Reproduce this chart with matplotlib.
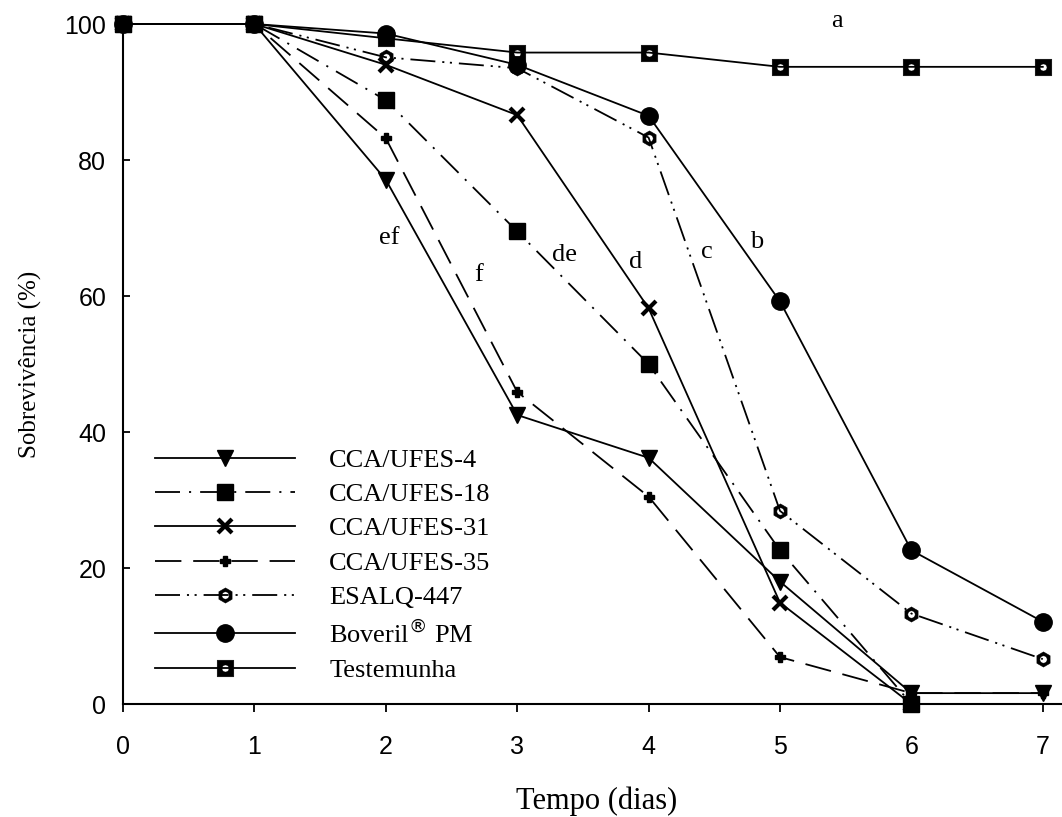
import numpy as np
import matplotlib
matplotlib.use("Agg")
import matplotlib.pyplot as plt
from matplotlib.path import Path

plt.rcParams["lines.scale_dashes"] = False

# data
days = [0, 1, 2, 3, 4, 5, 6, 7]
days_to6 = [0, 1, 2, 3, 4, 5, 6]
cca4 = [100, 100, 77.1, 42.5, 36.2, 18.0, 1.6, 1.6]
cca18 = [100, 100, 88.8, 69.5, 50.0, 22.6, 0]
cca31 = [100, 100, 94.0, 86.6, 58.2, 14.9, 0]
cca35 = [100, 100, 83.2, 45.9, 30.5, 6.9, 1.6, 1.6]
esalq = [100, 100, 95.1, 93.5, 83.3, 28.4, 13.3, 6.6]
boveril = [100, 100, 98.6, 94.0, 86.5, 59.2, 22.6, 12.1]
testemunha = [100, 100, 97.9, 95.8, 95.8, 93.7, 93.7, 93.7]

letters = ["a", "b", "c", "d", "de", "f", "ef"]
letter_x = [5.43, 4.82, 4.44, 3.90, 3.36, 2.71, 2.03]
letter_y = [100.5, 68.0, 66.5, 65.0, 66.0, 63.1, 68.5]


def holed_marker(n_outer, rot, hole):
    """Filled polygon marker with a small round hole in the middle."""
    ang = np.linspace(0, 2 * np.pi, n_outer, endpoint=False) + rot
    outer = np.column_stack([np.cos(ang), np.sin(ang)])
    t = np.linspace(0, 2 * np.pi, 16, endpoint=False)
    inner = np.column_stack([np.cos(t), np.sin(t)])[::-1] * hole
    verts = np.vstack([outer, outer[:1], inner, inner[:1]])
    codes = ([Path.MOVETO] + [Path.LINETO] * (n_outer - 1) + [Path.CLOSEPOLY]
             + [Path.MOVETO] + [Path.LINETO] * 15 + [Path.CLOSEPOLY])
    return Path(verts, codes)


square_hole = holed_marker(4, np.pi / 4, 0.3)
hexa_hole = holed_marker(6, np.pi / 2, 0.48)

serif = "Liberation Serif"
sans = "Liberation Sans"

fig = plt.figure(figsize=(10.62, 8.17), dpi=100)
ax = fig.add_axes([123 / 1062, 113 / 817, 939.5 / 1062, 680 / 817])

lw = 1.3
ax.plot(days, cca4, color="black", lw=lw, ls="-", marker="v", ms=12,
        label="CCA/UFES-4", clip_on=False)
ax.plot(days_to6, cca18, color="black", lw=lw, ls=(0, (18, 6.5, 1.5, 6.5)),
        marker="s", ms=11, label="CCA/UFES-18", clip_on=False)
ax.plot(days_to6, cca31, color="black", lw=lw, ls="-", marker="x", ms=10,
        mew=3, label="CCA/UFES-31", clip_on=False)
ax.plot(days, cca35, color="black", lw=lw, ls=(0, (19, 8.5)), marker="P",
        ms=7, label="CCA/UFES-35", clip_on=False)
ax.plot(days, esalq, color="black", lw=lw,
        ls=(0, (18, 5, 1.5, 4, 1.5, 5)), marker=hexa_hole, ms=11, mew=0.3,
        label="ESALQ-447", clip_on=False)
ax.plot(days, boveril, color="black", lw=lw, ls="-", marker="o", ms=12.5,
        label="Boveril$^{\\circledR}$ PM", clip_on=False)
ax.plot(days, testemunha, color="black", lw=lw, ls="-", marker=square_hole,
        ms=12, mew=0.3, label="Testemunha", clip_on=False)

for txt, x, y in zip(letters, letter_x, letter_y):
    ax.text(x, y, txt, fontsize=19, family=serif, ha="center", va="center")

ax.set_xlim(0, 7.15)
ax.set_ylim(0, 100)
ax.set_xticks(range(0, 8))
ax.set_yticks(range(0, 101, 20))

for side in ["top", "right"]:
    ax.spines[side].set_visible(False)
for side in ["left", "bottom"]:
    ax.spines[side].set_linewidth(1.5)

ax.tick_params(axis="x", direction="out", length=6, width=1.3, pad=16)
ax.tick_params(axis="y", direction="in", length=5, width=1.3, pad=12)
for lab in ax.get_xticklabels() + ax.get_yticklabels():
    lab.set_fontfamily(sans)
    lab.set_fontsize(18)

ax.set_xlabel("Tempo (dias)", fontsize=22, family=serif)
ax.set_ylabel("Sobrevivência (%)", fontsize=18, family=serif)
ax.xaxis.set_label_coords(0.5045, -0.121)
ax.yaxis.set_label_coords(-0.086, 0.5)

ax.legend(loc="lower left", bbox_to_anchor=(0.02, 0.013), frameon=False,
          prop={"family": serif, "size": 19}, handlelength=5.3,
          handletextpad=1.3, labelspacing=0.41, borderpad=0)

plt.savefig("out.png", dpi=100)
